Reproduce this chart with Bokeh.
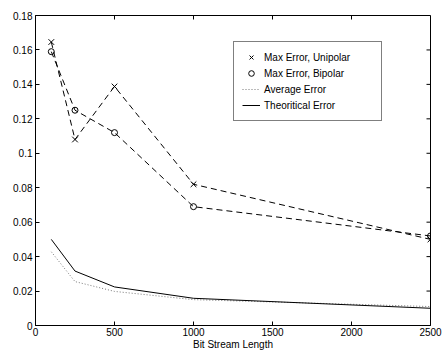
import math
from bokeh.plotting import figure
from bokeh.models import (FixedTicker, Legend, LegendItem, Range1d)
from bokeh.embed import file_html
from bokeh.resources import INLINE

# Data
bit_length = [100, 250, 500, 1000, 2500]
max_err_unipolar = [0.1646, 0.108, 0.1388, 0.082, 0.050]
max_err_bipolar = [0.159, 0.125, 0.112, 0.069, 0.052]
avg_error = [0.0428, 0.0255, 0.0198, 0.0150, 0.0110]
theo_error = [0.0500, 0.0316, 0.0224, 0.0158, 0.0100]

x_ticks = [0, 500, 1000, 1500, 2000, 2500]
y_ticks = [0, 0.02, 0.04, 0.06, 0.08, 0.10, 0.12, 0.14, 0.16, 0.18]
y_tick_labels = ["0", "0.02", "0.04", "0.06", "0.08", "0.1", "0.12", "0.14", "0.16", "0.18"]

FONT = "Liberation Sans"
FS = "10px"

x_min, x_max = x_ticks[0], x_ticks[-1]
y_min, y_max = y_ticks[0], y_ticks[-1]

p = figure(width=443, height=352, output_backend="svg", toolbar_location=None,
           x_range=Range1d(x_min, x_max), y_range=Range1d(y_min, y_max),
           min_border_left=35, min_border_right=13, min_border_top=15, min_border_bottom=24)
p.grid.visible = False
p.outline_line_color = "black"
p.outline_line_width = 1
p.background_fill_color = "white"
p.border_fill_color = "white"

for ax in (p.xaxis[0], p.yaxis[0]):
    ax.major_tick_in = 4
    ax.major_tick_out = 0
    ax.minor_tick_in = 0
    ax.minor_tick_out = 0
    ax.axis_line_color = "black"
    ax.major_tick_line_color = "black"
    ax.major_label_text_font = FONT
    ax.major_label_text_font_size = FS
    ax.major_label_text_color = "black"

p.xaxis[0].ticker = FixedTicker(ticks=x_ticks)
p.yaxis[0].ticker = FixedTicker(ticks=y_ticks)
p.yaxis[0].major_label_overrides = {t: l for t, l in zip(y_ticks, y_tick_labels)}
p.yaxis[0].major_label_standoff = 3
p.xaxis[0].major_label_standoff = 2
p.xaxis[0].axis_label = "Bit Stream Length"
p.xaxis[0].axis_label_text_font = FONT
p.xaxis[0].axis_label_text_font_size = FS
p.xaxis[0].axis_label_text_font_style = "normal"
p.xaxis[0].axis_label_text_color = "black"
p.xaxis[0].axis_label_standoff = 0

# mirrored inward ticks on top and right edges
p.ray(x=x_ticks, y=[y_max] * len(x_ticks), length=4, length_units="screen",
      angle=-math.pi / 2, line_color="black", line_width=1)
p.ray(x=[x_max] * len(y_ticks), y=y_ticks, length=4, length_units="screen",
      angle=math.pi, line_color="black", line_width=1)

dash = "6 4"
p.line(bit_length, max_err_unipolar, line_color="black", line_dash=dash, line_width=1)
p.line(bit_length, max_err_bipolar, line_color="black", line_dash=dash, line_width=1)
r_uni = p.scatter(bit_length, max_err_unipolar, marker="x", size=8, line_color="black", line_width=1)
r_bi = p.scatter(bit_length, max_err_bipolar, marker="circle", size=6, line_color="black",
                 fill_color=None, line_width=1)
r_avg = p.line(bit_length, avg_error, line_color="#777777", line_dash="1 2", line_width=1)
r_theo = p.line(bit_length, theo_error, line_color="black", line_width=1)

legend = Legend(items=[
    LegendItem(label="Max Error, Unipolar", renderers=[r_uni]),
    LegendItem(label="Max Error, Bipolar", renderers=[r_bi]),
    LegendItem(label="Average Error", renderers=[r_avg]),
    LegendItem(label="Theoritical Error", renderers=[r_theo]),
], location=(198, 204))
legend.border_line_color = "black"
legend.border_line_width = 1
legend.background_fill_color = "white"
legend.background_fill_alpha = 1
legend.label_text_font = FONT
legend.label_text_font_size = FS
legend.label_text_color = "black"
legend.glyph_width = 18
legend.glyph_height = 14
legend.label_height = 14
legend.label_width = 109
legend.label_standoff = 4
legend.spacing = 2
legend.padding = 8
legend.margin = 0
p.add_layout(legend)

open("out.html", "w").write(file_html(p, INLINE))
